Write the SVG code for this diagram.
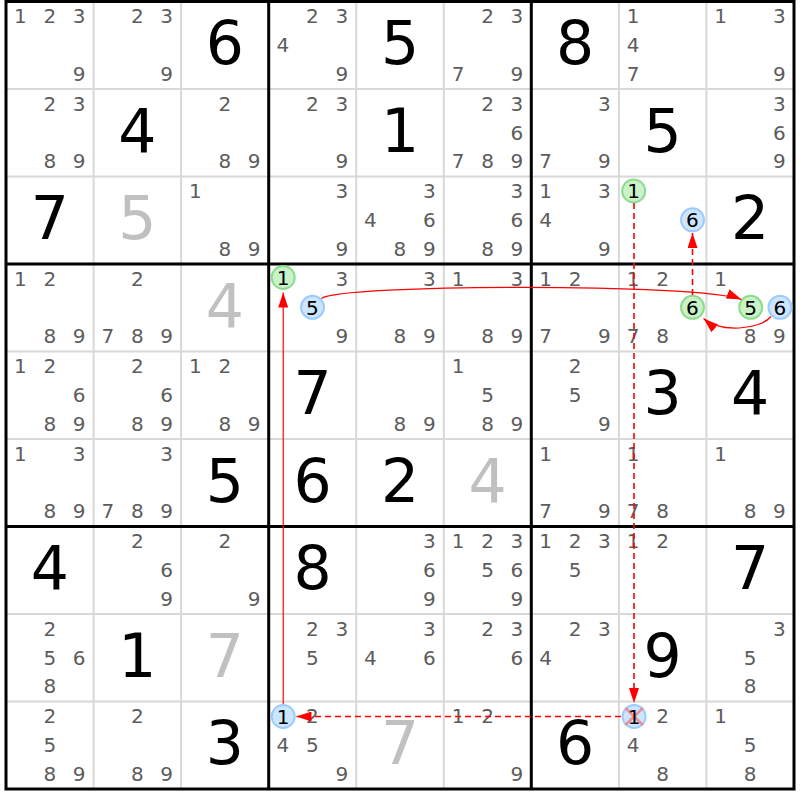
<svg xmlns="http://www.w3.org/2000/svg" width="800" height="800" viewBox="0 0 800 800">
<defs>
<style>
.c{font-family:"DejaVu Sans","Verdana",sans-serif;font-size:20px;fill:#5c5c5c;text-anchor:middle}
.h{font-family:"DejaVu Sans","Verdana",sans-serif;font-size:20px;fill:#000;text-anchor:middle}
.g{font-family:"DejaVu Sans","Verdana",sans-serif;font-size:60px;fill:#000;text-anchor:middle}
.s{font-family:"DejaVu Sans","Verdana",sans-serif;font-size:60px;fill:#c0c0c0;text-anchor:middle}
.thin{stroke:#d8d8d8;stroke-width:2}
.thick{stroke:#000;stroke-width:3}
.cg{fill:#c9f2c9;stroke:#8ddc8d;stroke-width:2}
.cb{fill:#cde6ff;stroke:#9ccbff;stroke-width:2}
.link{fill:none;stroke:#ff0000;stroke-width:1.2;marker-end:url(#ah)}
.dash{fill:none;stroke:#ff0000;stroke-width:1.6;stroke-dasharray:6,4;marker-end:url(#ah)}
</style>
<marker id="ah" viewBox="0 0 15 10" refX="15" refY="5" markerWidth="15" markerHeight="10" markerUnits="userSpaceOnUse" orient="auto">
<path d="M0,0 L15,5 L0,10 z" fill="#ff0000"/>
</marker>
</defs>
<rect width="800" height="800" fill="#fff"/>
<g id="grid">
<path class="thin" d="M93.6,1.5V789M181.1,1.5V789M356.2,1.5V789M443.8,1.5V789M618.9,1.5V789M706.4,1.5V789M6,89H794M6,176.5H794M6,351.5H794M6,439H794M6,614H794M6,701.5H794"/>
<path class="thick" d="M268.7,1.5V789M531.3,1.5V789M6,264H794M6,526.5H794"/>
<rect class="thick" x="6" y="1.5" width="788" height="787.5" fill="none"/>
</g>
<!-- Row 1 -->
<g id="r1c1" transform="translate(6,1.5)"><text class="c" x="14.3" y="21.8">1</text><text class="c" x="43.8" y="21.8">2</text><text class="c" x="73.1" y="21.8">3</text><text class="c" x="73.1" y="79.3">9</text></g>
<g id="r1c2" transform="translate(93.6,1.5)"><text class="c" x="43.8" y="21.8">2</text><text class="c" x="73.1" y="21.8">3</text><text class="c" x="73.1" y="79.3">9</text></g>
<g id="r1c3" transform="translate(181.1,1.5)"><text class="g" x="43.8" y="62.5">6</text></g>
<g id="r1c4" transform="translate(268.7,1.5)"><text class="c" x="43.8" y="21.8">2</text><text class="c" x="73.1" y="21.8">3</text><text class="c" x="14.3" y="50.6">4</text><text class="c" x="73.1" y="79.3">9</text></g>
<g id="r1c5" transform="translate(356.2,1.5)"><text class="g" x="43.8" y="62.5">5</text></g>
<g id="r1c6" transform="translate(443.8,1.5)"><text class="c" x="43.8" y="21.8">2</text><text class="c" x="73.1" y="21.8">3</text><text class="c" x="14.3" y="79.3">7</text><text class="c" x="73.1" y="79.3">9</text></g>
<g id="r1c7" transform="translate(531.3,1.5)"><text class="g" x="43.8" y="62.5">8</text></g>
<g id="r1c8" transform="translate(618.9,1.5)"><text class="c" x="14.3" y="21.8">1</text><text class="c" x="14.3" y="50.6">4</text><text class="c" x="14.3" y="79.3">7</text></g>
<g id="r1c9" transform="translate(706.4,1.5)"><text class="c" x="14.3" y="21.8">1</text><text class="c" x="73.1" y="21.8">3</text><text class="c" x="73.1" y="79.3">9</text></g>
<!-- Row 2 -->
<g id="r2c1" transform="translate(6,89)"><text class="c" x="43.8" y="21.8">2</text><text class="c" x="73.1" y="21.8">3</text><text class="c" x="43.8" y="79.3">8</text><text class="c" x="73.1" y="79.3">9</text></g>
<g id="r2c2" transform="translate(93.6,89)"><text class="g" x="43.8" y="62.5">4</text></g>
<g id="r2c3" transform="translate(181.1,89)"><text class="c" x="43.8" y="21.8">2</text><text class="c" x="43.8" y="79.3">8</text><text class="c" x="73.1" y="79.3">9</text></g>
<g id="r2c4" transform="translate(268.7,89)"><text class="c" x="43.8" y="21.8">2</text><text class="c" x="73.1" y="21.8">3</text><text class="c" x="73.1" y="79.3">9</text></g>
<g id="r2c5" transform="translate(356.2,89)"><text class="g" x="43.8" y="62.5">1</text></g>
<g id="r2c6" transform="translate(443.8,89)"><text class="c" x="43.8" y="21.8">2</text><text class="c" x="73.1" y="21.8">3</text><text class="c" x="73.1" y="50.6">6</text><text class="c" x="14.3" y="79.3">7</text><text class="c" x="43.8" y="79.3">8</text><text class="c" x="73.1" y="79.3">9</text></g>
<g id="r2c7" transform="translate(531.3,89)"><text class="c" x="73.1" y="21.8">3</text><text class="c" x="14.3" y="79.3">7</text><text class="c" x="73.1" y="79.3">9</text></g>
<g id="r2c8" transform="translate(618.9,89)"><text class="g" x="43.8" y="62.5">5</text></g>
<g id="r2c9" transform="translate(706.4,89)"><text class="c" x="73.1" y="21.8">3</text><text class="c" x="73.1" y="50.6">6</text><text class="c" x="73.1" y="79.3">9</text></g>
<!-- Row 3 -->
<g id="r3c1" transform="translate(6,176.5)"><text class="g" x="43.8" y="62.5">7</text></g>
<g id="r3c2" transform="translate(93.6,176.5)"><text class="s" x="43.8" y="62.5">5</text></g>
<g id="r3c3" transform="translate(181.1,176.5)"><text class="c" x="14.3" y="21.8">1</text><text class="c" x="43.8" y="79.3">8</text><text class="c" x="73.1" y="79.3">9</text></g>
<g id="r3c4" transform="translate(268.7,176.5)"><text class="c" x="73.1" y="21.8">3</text><text class="c" x="73.1" y="79.3">9</text></g>
<g id="r3c5" transform="translate(356.2,176.5)"><text class="c" x="73.1" y="21.8">3</text><text class="c" x="14.3" y="50.6">4</text><text class="c" x="73.1" y="50.6">6</text><text class="c" x="43.8" y="79.3">8</text><text class="c" x="73.1" y="79.3">9</text></g>
<g id="r3c6" transform="translate(443.8,176.5)"><text class="c" x="73.1" y="21.8">3</text><text class="c" x="73.1" y="50.6">6</text><text class="c" x="43.8" y="79.3">8</text><text class="c" x="73.1" y="79.3">9</text></g>
<g id="r3c7" transform="translate(531.3,176.5)"><text class="c" x="14.3" y="21.8">1</text><text class="c" x="73.1" y="21.8">3</text><text class="c" x="14.3" y="50.6">4</text><text class="c" x="73.1" y="79.3">9</text></g>
<g id="r3c8" transform="translate(618.9,176.5)"><circle class="cg" cx="14.8" cy="14.5" r="11.5"/><text class="h" x="14.8" y="21.8">1</text><circle class="cb" cx="73.6" cy="43.3" r="11.5"/><text class="h" x="73.6" y="50.6">6</text></g>
<g id="r3c9" transform="translate(706.4,176.5)"><text class="g" x="43.8" y="62.5">2</text></g>
<!-- Row 4 -->
<g id="r4c1" transform="translate(6,264)"><text class="c" x="14.3" y="21.8">1</text><text class="c" x="43.8" y="21.8">2</text><text class="c" x="43.8" y="79.3">8</text><text class="c" x="73.1" y="79.3">9</text></g>
<g id="r4c2" transform="translate(93.6,264)"><text class="c" x="43.8" y="21.8">2</text><text class="c" x="14.3" y="79.3">7</text><text class="c" x="43.8" y="79.3">8</text><text class="c" x="73.1" y="79.3">9</text></g>
<g id="r4c3" transform="translate(181.1,264)"><text class="s" x="43.8" y="62.5">4</text></g>
<g id="r4c4" transform="translate(268.7,264)"><circle class="cg" cx="14.5" cy="13.5" r="11.5"/><text class="h" x="14.5" y="20.8">1</text><text class="c" x="73.1" y="21.8">3</text><circle class="cb" cx="43.8" cy="43.3" r="11.5"/><text class="h" x="43.8" y="50.6">5</text><text class="c" x="73.1" y="79.3">9</text></g>
<g id="r4c5" transform="translate(356.2,264)"><text class="c" x="73.1" y="21.8">3</text><text class="c" x="43.8" y="79.3">8</text><text class="c" x="73.1" y="79.3">9</text></g>
<g id="r4c6" transform="translate(443.8,264)"><text class="c" x="14.3" y="21.8">1</text><text class="c" x="73.1" y="21.8">3</text><text class="c" x="43.8" y="79.3">8</text><text class="c" x="73.1" y="79.3">9</text></g>
<g id="r4c7" transform="translate(531.3,264)"><text class="c" x="14.3" y="21.8">1</text><text class="c" x="43.8" y="21.8">2</text><text class="c" x="14.3" y="79.3">7</text><text class="c" x="73.1" y="79.3">9</text></g>
<g id="r4c8" transform="translate(618.9,264)"><text class="c" x="14.3" y="21.8">1</text><text class="c" x="43.8" y="21.8">2</text><circle class="cg" cx="73.6" cy="43.3" r="11.5"/><text class="h" x="73.6" y="50.6">6</text><text class="c" x="14.3" y="79.3">7</text><text class="c" x="43.8" y="79.3">8</text></g>
<g id="r4c9" transform="translate(706.4,264)"><text class="c" x="14.3" y="21.8">1</text><circle class="cg" cx="44.3" cy="43.3" r="11.5"/><text class="h" x="44.3" y="50.6">5</text><circle class="cb" cx="73.6" cy="43.3" r="11.5"/><text class="h" x="73.6" y="50.6">6</text><text class="c" x="43.8" y="79.3">8</text><text class="c" x="73.1" y="79.3">9</text></g>
<!-- Row 5 -->
<g id="r5c1" transform="translate(6,351.5)"><text class="c" x="14.3" y="21.8">1</text><text class="c" x="43.8" y="21.8">2</text><text class="c" x="73.1" y="50.6">6</text><text class="c" x="43.8" y="79.3">8</text><text class="c" x="73.1" y="79.3">9</text></g>
<g id="r5c2" transform="translate(93.6,351.5)"><text class="c" x="43.8" y="21.8">2</text><text class="c" x="73.1" y="50.6">6</text><text class="c" x="43.8" y="79.3">8</text><text class="c" x="73.1" y="79.3">9</text></g>
<g id="r5c3" transform="translate(181.1,351.5)"><text class="c" x="14.3" y="21.8">1</text><text class="c" x="43.8" y="21.8">2</text><text class="c" x="43.8" y="79.3">8</text><text class="c" x="73.1" y="79.3">9</text></g>
<g id="r5c4" transform="translate(268.7,351.5)"><text class="g" x="43.8" y="62.5">7</text></g>
<g id="r5c5" transform="translate(356.2,351.5)"><text class="c" x="43.8" y="79.3">8</text><text class="c" x="73.1" y="79.3">9</text></g>
<g id="r5c6" transform="translate(443.8,351.5)"><text class="c" x="14.3" y="21.8">1</text><text class="c" x="43.8" y="50.6">5</text><text class="c" x="43.8" y="79.3">8</text><text class="c" x="73.1" y="79.3">9</text></g>
<g id="r5c7" transform="translate(531.3,351.5)"><text class="c" x="43.8" y="21.8">2</text><text class="c" x="43.8" y="50.6">5</text><text class="c" x="73.1" y="79.3">9</text></g>
<g id="r5c8" transform="translate(618.9,351.5)"><text class="g" x="43.8" y="62.5">3</text></g>
<g id="r5c9" transform="translate(706.4,351.5)"><text class="g" x="43.8" y="62.5">4</text></g>
<!-- Row 6 -->
<g id="r6c1" transform="translate(6,439)"><text class="c" x="14.3" y="21.8">1</text><text class="c" x="73.1" y="21.8">3</text><text class="c" x="43.8" y="79.3">8</text><text class="c" x="73.1" y="79.3">9</text></g>
<g id="r6c2" transform="translate(93.6,439)"><text class="c" x="73.1" y="21.8">3</text><text class="c" x="14.3" y="79.3">7</text><text class="c" x="43.8" y="79.3">8</text><text class="c" x="73.1" y="79.3">9</text></g>
<g id="r6c3" transform="translate(181.1,439)"><text class="g" x="43.8" y="62.5">5</text></g>
<g id="r6c4" transform="translate(268.7,439)"><text class="g" x="43.8" y="62.5">6</text></g>
<g id="r6c5" transform="translate(356.2,439)"><text class="g" x="43.8" y="62.5">2</text></g>
<g id="r6c6" transform="translate(443.8,439)"><text class="s" x="43.8" y="62.5">4</text></g>
<g id="r6c7" transform="translate(531.3,439)"><text class="c" x="14.3" y="21.8">1</text><text class="c" x="14.3" y="79.3">7</text><text class="c" x="73.1" y="79.3">9</text></g>
<g id="r6c8" transform="translate(618.9,439)"><text class="c" x="14.3" y="21.8">1</text><text class="c" x="14.3" y="79.3">7</text><text class="c" x="43.8" y="79.3">8</text></g>
<g id="r6c9" transform="translate(706.4,439)"><text class="c" x="14.3" y="21.8">1</text><text class="c" x="43.8" y="79.3">8</text><text class="c" x="73.1" y="79.3">9</text></g>
<!-- Row 7 -->
<g id="r7c1" transform="translate(6,526.5)"><text class="g" x="43.8" y="62.5">4</text></g>
<g id="r7c2" transform="translate(93.6,526.5)"><text class="c" x="43.8" y="21.8">2</text><text class="c" x="73.1" y="50.6">6</text><text class="c" x="73.1" y="79.3">9</text></g>
<g id="r7c3" transform="translate(181.1,526.5)"><text class="c" x="43.8" y="21.8">2</text><text class="c" x="73.1" y="79.3">9</text></g>
<g id="r7c4" transform="translate(268.7,526.5)"><text class="g" x="43.8" y="62.5">8</text></g>
<g id="r7c5" transform="translate(356.2,526.5)"><text class="c" x="73.1" y="21.8">3</text><text class="c" x="73.1" y="50.6">6</text><text class="c" x="73.1" y="79.3">9</text></g>
<g id="r7c6" transform="translate(443.8,526.5)"><text class="c" x="14.3" y="21.8">1</text><text class="c" x="43.8" y="21.8">2</text><text class="c" x="73.1" y="21.8">3</text><text class="c" x="43.8" y="50.6">5</text><text class="c" x="73.1" y="50.6">6</text><text class="c" x="73.1" y="79.3">9</text></g>
<g id="r7c7" transform="translate(531.3,526.5)"><text class="c" x="14.3" y="21.8">1</text><text class="c" x="43.8" y="21.8">2</text><text class="c" x="73.1" y="21.8">3</text><text class="c" x="43.8" y="50.6">5</text></g>
<g id="r7c8" transform="translate(618.9,526.5)"><text class="c" x="14.3" y="21.8">1</text><text class="c" x="43.8" y="21.8">2</text></g>
<g id="r7c9" transform="translate(706.4,526.5)"><text class="g" x="43.8" y="62.5">7</text></g>
<!-- Row 8 -->
<g id="r8c1" transform="translate(6,614)"><text class="c" x="43.8" y="21.8">2</text><text class="c" x="43.8" y="50.6">5</text><text class="c" x="73.1" y="50.6">6</text><text class="c" x="43.8" y="79.3">8</text></g>
<g id="r8c2" transform="translate(93.6,614)"><text class="g" x="43.8" y="62.5">1</text></g>
<g id="r8c3" transform="translate(181.1,614)"><text class="s" x="43.8" y="62.5">7</text></g>
<g id="r8c4" transform="translate(268.7,614)"><text class="c" x="43.8" y="21.8">2</text><text class="c" x="73.1" y="21.8">3</text><text class="c" x="43.8" y="50.6">5</text></g>
<g id="r8c5" transform="translate(356.2,614)"><text class="c" x="73.1" y="21.8">3</text><text class="c" x="14.3" y="50.6">4</text><text class="c" x="73.1" y="50.6">6</text></g>
<g id="r8c6" transform="translate(443.8,614)"><text class="c" x="43.8" y="21.8">2</text><text class="c" x="73.1" y="21.8">3</text><text class="c" x="73.1" y="50.6">6</text></g>
<g id="r8c7" transform="translate(531.3,614)"><text class="c" x="43.8" y="21.8">2</text><text class="c" x="73.1" y="21.8">3</text><text class="c" x="14.3" y="50.6">4</text></g>
<g id="r8c8" transform="translate(618.9,614)"><text class="g" x="43.8" y="62.5">9</text></g>
<g id="r8c9" transform="translate(706.4,614)"><text class="c" x="73.1" y="21.8">3</text><text class="c" x="43.8" y="50.6">5</text><text class="c" x="43.8" y="79.3">8</text></g>
<!-- Row 9 -->
<g id="r9c1" transform="translate(6,701.5)"><text class="c" x="43.8" y="21.8">2</text><text class="c" x="43.8" y="50.6">5</text><text class="c" x="43.8" y="79.3">8</text><text class="c" x="73.1" y="79.3">9</text></g>
<g id="r9c2" transform="translate(93.6,701.5)"><text class="c" x="43.8" y="21.8">2</text><text class="c" x="43.8" y="79.3">8</text><text class="c" x="73.1" y="79.3">9</text></g>
<g id="r9c3" transform="translate(181.1,701.5)"><text class="g" x="43.8" y="62.5">3</text></g>
<g id="r9c4" transform="translate(268.7,701.5)"><circle class="cb" cx="14.5" cy="15" r="11.5"/><text class="h" x="14.5" y="22.3">1</text><text class="c" x="43.8" y="21.8">2</text><text class="c" x="14.3" y="50.6">4</text><text class="c" x="43.8" y="50.6">5</text><text class="c" x="73.1" y="79.3">9</text></g>
<g id="r9c5" transform="translate(356.2,701.5)"><text class="s" x="43.8" y="62.5">7</text></g>
<g id="r9c6" transform="translate(443.8,701.5)"><text class="c" x="14.3" y="21.8">1</text><text class="c" x="43.8" y="21.8">2</text><text class="c" x="73.1" y="79.3">9</text></g>
<g id="r9c7" transform="translate(531.3,701.5)"><text class="g" x="43.8" y="62.5">6</text></g>
<g id="r9c8" transform="translate(618.9,701.5)"><circle class="cb" cx="15.2" cy="15" r="11.5"/><path d="M6.5,6.5L24,23.5M24,6.5L6.5,23.5" stroke="#ff7070" stroke-opacity="0.75" stroke-width="2.5"/><text class="h" x="15.2" y="22.3">1</text><text class="c" x="43.8" y="21.8">2</text><text class="c" x="14.3" y="50.6">4</text><text class="c" x="43.8" y="79.3">8</text></g>
<g id="r9c9" transform="translate(706.4,701.5)"><text class="c" x="14.3" y="21.8">1</text><text class="c" x="43.8" y="50.6">5</text><text class="c" x="43.8" y="79.3">8</text></g>
<!-- Connectors -->
<g id="links">
<path class="dash" d="M634,203L634,703"/>
<path class="dash" d="M621,716.5L296.5,716.5"/>
<path class="link" d="M283.2,704L283.2,292.5"/>
<path class="link" d="M321.5,298.5C340,284 700,283 741.5,299.5"/>
<path class="link" d="M771,316.5C760,330 720,333 703.5,318.5"/>
<path class="dash" d="M692.5,295L692.5,233"/>
</g>
</svg>
